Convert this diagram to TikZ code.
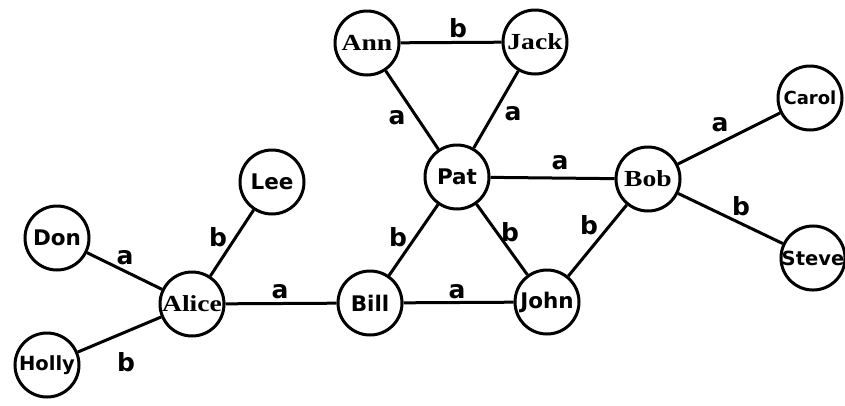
\documentclass[tikz,border=0pt]{standalone}
\usepackage{fontspec}
\newfontfamily\nsans{DejaVu Sans}
\newfontfamily\nserif[FakeStretch=1.2]{Liberation Serif}
\begin{document}
\begin{tikzpicture}[x=1pt,y=-1pt,
  person/.style={circle,draw,line width=3pt,minimum size=64pt,inner sep=0pt,fill=white},
  sn/.style={person,font=\nsans\bfseries\fontsize{21.5}{21.5}\selectfont},
  sr/.style={person,font=\nserif\bfseries\fontsize{23}{23}\selectfont},
  edge/.style={line width=3pt},
  lbl/.style={font=\nsans\bfseries\fontsize{25}{25}\selectfont,inner sep=0pt}]
\useasboundingbox (0,0) rectangle (845,405);
\node[sr] (ann) at (367,43) {Ann};
\node[sr] (jack) at (535,42) {Jack};
\node[sn] (pat) at (457,177) {Pat};
\node[sr] (bob) at (648,179) {Bob};
\node[sn,font=\nsans\bfseries\fontsize{18}{18}\selectfont] (carol) at (810,98) {Carol};
\node[sn,font=\nsans\bfseries\fontsize{19.5}{19.5}\selectfont] (steve) at (813,258) {Steve};
\node[sn] (lee) at (272,182) {Lee};
\node[sn] (don) at (57,238) {Don};
\node[sr] (alice) at (192,304) {Alice};
\node[sn,font=\nsans\bfseries\fontsize{19.5}{19.5}\selectfont] (holly) at (47,365) {Holly};
\node[sn] (bill) at (370,303) {Bill};
\node[sn] (john) at (547,302) {John};
\draw[edge] (ann) -- (jack);
\draw[edge] (ann) -- (pat);
\draw[edge] (jack) -- (pat);
\draw[edge] (pat) -- (bob);
\draw[edge] (bob) -- (carol);
\draw[edge] (bob) -- (steve);
\draw[edge] (pat) -- (bill);
\draw[edge] (pat) -- (john);
\draw[edge] (john) -- (bob);
\draw[edge] (bill) -- (john);
\draw[edge] (alice) -- (bill);
\draw[edge] (alice) -- (lee);
\draw[edge] (don) -- (alice);
\draw[edge] (holly) -- (alice);
\node[lbl] (l1) at (458,28) {b};
\node[lbl] (l2) at (397,118) {a};
\node[lbl] (l3) at (513,114) {a};
\node[lbl] (l4) at (560,163) {a};
\node[lbl] (l5) at (720,125) {a};
\node[lbl] (l6) at (741,206) {b};
\node[lbl] (l7) at (398,237) {b};
\node[lbl] (l8) at (510,232) {b};
\node[lbl] (l9) at (589,225) {b};
\node[lbl] (l10) at (457,292) {a};
\node[lbl] (l11) at (280,292) {a};
\node[lbl] (l12) at (218,237) {b};
\node[lbl] (l13) at (125,258) {a};
\node[lbl] (l14) at (126,362) {b};
\end{tikzpicture}
\end{document}
